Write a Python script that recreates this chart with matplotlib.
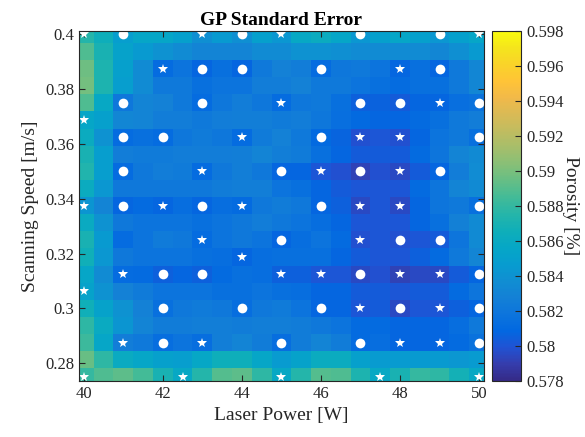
import numpy as np
import matplotlib
matplotlib.use('Agg')
import matplotlib.pyplot as plt
from matplotlib.colors import LinearSegmentedColormap
from matplotlib.ticker import FormatStrFormatter

plt.rcParams['font.family'] = ['Liberation Serif', 'DejaVu Serif']

# grid of the GP prediction
power_grid = np.linspace(40, 50, 21)
speed_grid = np.linspace(0.4, 0.275, 21)  # top row first

# standard error, rows from 0.4 m/s down to 0.275 m/s
std_err = [
    [0.5875, 0.5865, 0.5848, 0.5855, 0.5855, 0.5850, 0.5838, 0.5845, 0.5838, 0.5850, 0.5843, 0.5858, 0.5862, 0.5855, 0.5843, 0.5850, 0.5855, 0.5850, 0.5843, 0.5850, 0.5855],
    [0.5888, 0.5870, 0.5852, 0.5845, 0.5840, 0.5835, 0.5830, 0.5830, 0.5830, 0.5835, 0.5835, 0.5840, 0.5840, 0.5838, 0.5835, 0.5835, 0.5835, 0.5835, 0.5832, 0.5838, 0.5845],
    [0.5897, 0.5872, 0.5850, 0.5835, 0.5812, 0.5818, 0.5808, 0.5815, 0.5808, 0.5822, 0.5828, 0.5825, 0.5812, 0.5820, 0.5822, 0.5818, 0.5808, 0.5815, 0.5808, 0.5822, 0.5832],
    [0.5898, 0.5872, 0.5848, 0.5835, 0.5822, 0.5822, 0.5815, 0.5818, 0.5818, 0.5825, 0.5825, 0.5828, 0.5822, 0.5822, 0.5818, 0.5815, 0.5812, 0.5815, 0.5815, 0.5822, 0.5832],
    [0.5888, 0.5858, 0.5820, 0.5830, 0.5828, 0.5822, 0.5812, 0.5820, 0.5825, 0.5820, 0.5812, 0.5820, 0.5822, 0.5815, 0.5805, 0.5806, 0.5803, 0.5808, 0.5808, 0.5814, 0.5816],
    [0.5855, 0.5850, 0.5832, 0.5830, 0.5825, 0.5825, 0.5822, 0.5825, 0.5826, 0.5826, 0.5823, 0.5825, 0.5820, 0.5814, 0.5810, 0.5808, 0.5808, 0.5811, 0.5815, 0.5822, 0.5825],
    [0.5862, 0.5840, 0.5812, 0.5815, 0.5812, 0.5820, 0.5823, 0.5820, 0.5812, 0.5823, 0.5828, 0.5822, 0.5810, 0.5807, 0.5798, 0.5801, 0.5798, 0.5808, 0.5818, 0.5822, 0.5815],
    [0.5870, 0.5848, 0.5825, 0.5823, 0.5823, 0.5825, 0.5825, 0.5825, 0.5826, 0.5830, 0.5826, 0.5823, 0.5815, 0.5808, 0.5803, 0.5803, 0.5803, 0.5811, 0.5819, 0.5830, 0.5834],
    [0.5873, 0.5848, 0.5812, 0.5821, 0.5825, 0.5823, 0.5812, 0.5821, 0.5826, 0.5821, 0.5808, 0.5808, 0.5801, 0.5798, 0.5792, 0.5798, 0.5795, 0.5803, 0.5808, 0.5825, 0.5836],
    [0.5862, 0.5843, 0.5821, 0.5821, 0.5821, 0.5821, 0.5821, 0.5824, 0.5826, 0.5826, 0.5818, 0.5815, 0.5808, 0.5803, 0.5801, 0.5801, 0.5801, 0.5811, 0.5819, 0.5830, 0.5834],
    [0.5842, 0.5830, 0.5808, 0.5811, 0.5808, 0.5813, 0.5808, 0.5813, 0.5811, 0.5821, 0.5824, 0.5821, 0.5808, 0.5805, 0.5795, 0.5801, 0.5795, 0.5808, 0.5819, 0.5822, 0.5815],
    [0.5860, 0.5840, 0.5821, 0.5818, 0.5818, 0.5818, 0.5815, 0.5818, 0.5821, 0.5825, 0.5821, 0.5818, 0.5813, 0.5808, 0.5801, 0.5801, 0.5801, 0.5808, 0.5815, 0.5827, 0.5834],
    [0.5870, 0.5845, 0.5812, 0.5818, 0.5823, 0.5821, 0.5812, 0.5818, 0.5821, 0.5818, 0.5808, 0.5813, 0.5818, 0.5811, 0.5798, 0.5801, 0.5798, 0.5801, 0.5803, 0.5819, 0.5834],
    [0.5866, 0.5843, 0.5821, 0.5818, 0.5818, 0.5818, 0.5815, 0.5813, 0.5808, 0.5813, 0.5815, 0.5815, 0.5815, 0.5808, 0.5803, 0.5801, 0.5801, 0.5805, 0.5811, 0.5822, 0.5831],
    [0.5855, 0.5835, 0.5812, 0.5811, 0.5805, 0.5808, 0.5805, 0.5811, 0.5815, 0.5813, 0.5805, 0.5805, 0.5801, 0.5801, 0.5795, 0.5798, 0.5792, 0.5795, 0.5795, 0.5803, 0.5808],
    [0.5852, 0.5840, 0.5828, 0.5823, 0.5818, 0.5818, 0.5818, 0.5815, 0.5815, 0.5818, 0.5815, 0.5813, 0.5808, 0.5808, 0.5803, 0.5803, 0.5801, 0.5803, 0.5803, 0.5811, 0.5819],
    [0.5866, 0.5852, 0.5840, 0.5828, 0.5815, 0.5821, 0.5823, 0.5821, 0.5813, 0.5821, 0.5823, 0.5818, 0.5808, 0.5808, 0.5801, 0.5803, 0.5795, 0.5801, 0.5801, 0.5805, 0.5808],
    [0.5878, 0.5860, 0.5842, 0.5830, 0.5824, 0.5824, 0.5826, 0.5826, 0.5824, 0.5826, 0.5826, 0.5824, 0.5821, 0.5818, 0.5811, 0.5811, 0.5808, 0.5808, 0.5808, 0.5813, 0.5822],
    [0.5883, 0.5855, 0.5825, 0.5822, 0.5813, 0.5818, 0.5813, 0.5826, 0.5830, 0.5824, 0.5813, 0.5824, 0.5830, 0.5824, 0.5811, 0.5813, 0.5808, 0.5808, 0.5808, 0.5811, 0.5816],
    [0.5895, 0.5878, 0.5860, 0.5855, 0.5850, 0.5848, 0.5856, 0.5865, 0.5865, 0.5855, 0.5846, 0.5852, 0.5862, 0.5862, 0.5850, 0.5846, 0.5846, 0.5845, 0.5845, 0.5843, 0.5846],
    [0.5880, 0.5888, 0.5892, 0.5885, 0.5870, 0.5858, 0.5875, 0.5890, 0.5892, 0.5878, 0.5858, 0.5875, 0.5890, 0.5888, 0.5872, 0.5858, 0.5870, 0.5880, 0.5878, 0.5868, 0.5858],
]

# experiments shown as circles
circ_power = [41, 44, 47, 49,
              43, 44, 46, 49,
              41, 43, 47, 48, 50,
              41, 42, 46, 50,
              41, 45, 47, 49,
              41, 43, 46, 50,
              45, 48, 49,
              42, 43, 47, 50,
              42, 44, 46, 48, 50,
              42, 45, 47, 50]
circ_speed = [0.4, 0.4, 0.4, 0.4,
              0.3875, 0.3875, 0.3875, 0.3875,
              0.375, 0.375, 0.375, 0.375, 0.375,
              0.3625, 0.3625, 0.3625, 0.3625,
              0.35, 0.35, 0.35, 0.35,
              0.3375, 0.3375, 0.3375, 0.3375,
              0.325, 0.325, 0.325,
              0.3125, 0.3125, 0.3125, 0.3125,
              0.3, 0.3, 0.3, 0.3, 0.3,
              0.2875, 0.2875, 0.2875, 0.2875]

# experiments shown as stars
star_power = [40, 43, 45, 50,
              42, 48,
              45, 49,
              40,
              44, 47, 48,
              43, 46, 48,
              40, 42, 44, 47, 48,
              43, 47,
              44,
              41, 45, 46, 48, 49,
              40,
              47, 49,
              41, 43, 48, 49,
              40, 42.5, 45, 47.5, 50]
star_speed = [0.4, 0.4, 0.4, 0.4,
              0.3875, 0.3875,
              0.375, 0.375,
              0.36875,
              0.3625, 0.3625, 0.3625,
              0.35, 0.35, 0.35,
              0.3375, 0.3375, 0.3375, 0.3375, 0.3375,
              0.325, 0.325,
              0.31875,
              0.3125, 0.3125, 0.3125, 0.3125, 0.3125,
              0.30625,
              0.3, 0.3,
              0.2875, 0.2875, 0.2875, 0.2875,
              0.275, 0.275, 0.275, 0.275, 0.275]

# parula-like colormap
parula_pts = [
    (0.2081, 0.1663, 0.5292), (0.2081, 0.2386, 0.6771), (0.1253, 0.3242, 0.8303),
    (0.0060, 0.4086, 0.8828), (0.0498, 0.4586, 0.8641), (0.0779, 0.5040, 0.8384),
    (0.0641, 0.5570, 0.8240), (0.0265, 0.6137, 0.8135), (0.0228, 0.6535, 0.7768),
    (0.0590, 0.6838, 0.7254), (0.1453, 0.7098, 0.6646), (0.2586, 0.7317, 0.5954),
    (0.3953, 0.7459, 0.5244), (0.5300, 0.7491, 0.4661), (0.6473, 0.7456, 0.4188),
    (0.7525, 0.7384, 0.3768), (0.8507, 0.7299, 0.3360), (0.9450, 0.7261, 0.2886),
    (0.9990, 0.7653, 0.2164), (0.9789, 0.8271, 0.1633), (0.9589, 0.8949, 0.1132),
    (0.9763, 0.9831, 0.0538),
]
parula = LinearSegmentedColormap.from_list('parula', parula_pts, N=256)

fig = plt.figure(figsize=(5.85, 4.37), dpi=100)
ax = fig.add_axes([0.135, 0.128, 0.692, 0.801])
cax = fig.add_axes([0.841, 0.128, 0.050, 0.801])

Z = np.flipud(np.array(std_err))
mesh = ax.pcolormesh(power_grid, speed_grid[::-1], Z, shading='nearest',
                     cmap=parula, vmin=0.578, vmax=0.598)

ax.plot(circ_power, circ_speed, 'o', color='white', markersize=7,
        markeredgewidth=0, clip_on=False)
ax.plot(star_power, star_speed, '*', color='white', markersize=7.5,
        markeredgewidth=0, clip_on=False)

ax.set_xlim(39.88, 50.12)
ax.set_ylim(0.2735, 0.4012)
ax.set_xticks([40, 42, 44, 46, 48, 50])
ax.set_yticks([0.28, 0.3, 0.32, 0.34, 0.36, 0.38, 0.4])
ax.yaxis.set_major_formatter(FormatStrFormatter('%g'))
ax.tick_params(direction='in', top=True, right=True, length=4, width=0.8,
               color='#262626', labelsize=12, labelcolor='#262626')
for s in ax.spines.values():
    s.set_color('#262626')
    s.set_linewidth(0.8)

ax.set_xlabel('Laser Power [W]', fontsize=14, color='#262626')
ax.set_ylabel('Scanning Speed [m/s]', fontsize=14, color='#262626')
ax.set_title('GP Standard Error', fontsize=14, fontweight='bold', pad=4)

cb = fig.colorbar(mesh, cax=cax)
cb.set_ticks([0.578, 0.58, 0.582, 0.584, 0.586, 0.588, 0.59, 0.592, 0.594, 0.596, 0.598])
cb.ax.yaxis.set_major_formatter(FormatStrFormatter('%g'))
cb.ax.tick_params(direction='in', length=4, width=0.8, color='#262626',
                  labelsize=12, labelcolor='#262626')
cb.outline.set_edgecolor('#262626')
cb.outline.set_linewidth(0.8)
cb.set_label('Porosity [%]', fontsize=14, rotation=270, labelpad=11, color='#262626')

fig.savefig('out.png', dpi=100)
